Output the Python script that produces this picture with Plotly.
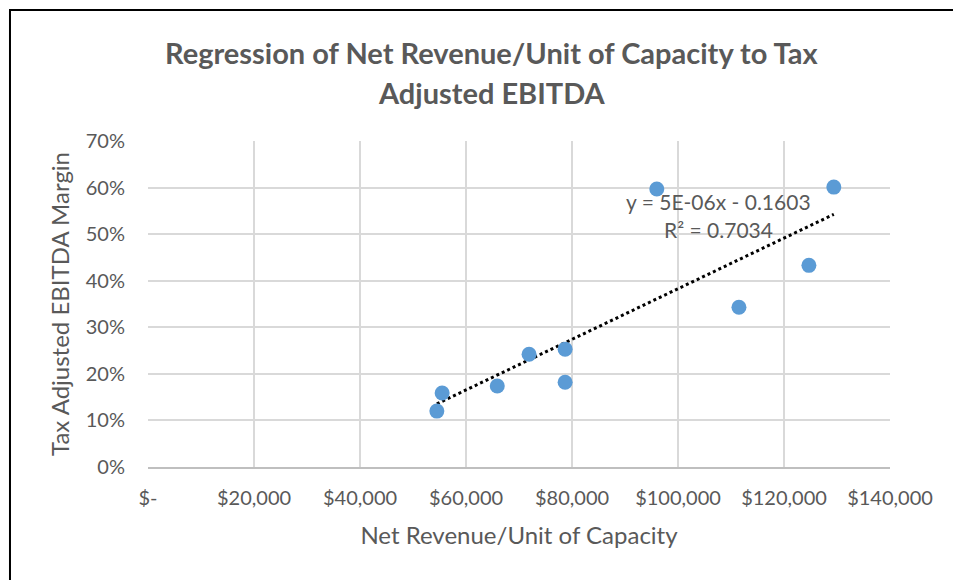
import plotly.graph_objects as go
import numpy as np

# data
revenue_per_unit = [54500, 55500, 65900, 71900, 78700, 78700, 96000, 111500, 124700, 129400]
ebitda_margin = [0.120, 0.159, 0.174, 0.242, 0.253, 0.182, 0.597, 0.343, 0.433, 0.601]

x_tickvals = [0, 20000, 40000, 60000, 80000, 100000, 120000, 140000]
x_ticktext = ['$-', '$20,000', '$40,000', '$60,000', '$80,000', '$100,000', '$120,000', '$140,000']
y_tickvals = [0, 0.1, 0.2, 0.3, 0.4, 0.5, 0.6, 0.7]

trend_eq = 'y = 5E-06x - 0.1603'
trend_r2 = 'R² = 0.7034'

GREY = '#595959'
FONT = 'Lato, Carlito, sans-serif'

# linear trendline like Excel's
x = np.array(revenue_per_unit, dtype=float)
y = np.array(ebitda_margin)
slope, intercept = np.polyfit(x, y, 1)
trend_x = np.array([x.min(), x.max()])
trend_y = slope * trend_x + intercept

fig = go.Figure()

fig.add_trace(go.Scatter(
    x=trend_x, y=trend_y, mode='lines',
    line=dict(color='black', width=3, dash='dot'), showlegend=False
))
fig.add_trace(go.Scatter(
    x=revenue_per_unit, y=ebitda_margin, mode='markers',
    marker=dict(color='#5B9BD5', size=15), showlegend=False
))

# title, two lines
fig.add_annotation(x=0.4636, y=1.273, xref='paper', yref='paper', showarrow=False,
                   xanchor='center', yanchor='middle',
                   text='<b>Regression of Net Revenue/Unit of Capacity to Tax</b>',
                   font=dict(size=29, color=GREY, family=FONT))
fig.add_annotation(x=0.4636, y=1.150, xref='paper', yref='paper', showarrow=False,
                   xanchor='center', yanchor='middle',
                   text='<b>Adjusted EBITDA</b>',
                   font=dict(size=29, color=GREY, family=FONT))

# trendline equation
fig.add_annotation(x=0.769, y=0.813, xref='paper', yref='paper', showarrow=False,
                   xanchor='center', yanchor='middle', text=trend_eq,
                   font=dict(size=21, color=GREY, family=FONT))
fig.add_annotation(x=0.769, y=0.727, xref='paper', yref='paper', showarrow=False,
                   xanchor='center', yanchor='middle', text=trend_r2,
                   font=dict(size=21, color=GREY, family=FONT))

# chart frame
fig.add_shape(type='rect', xref='paper', yref='paper',
              x0=-0.186, x1=1.0916, y0=-0.38, y1=1.402,
              line=dict(color='black', width=2), layer='below')

fig.update_layout(
    width=961, height=580, autosize=False,
    margin=dict(l=140, r=79, t=133, b=121),
    paper_bgcolor='white', plot_bgcolor='white',
    font=dict(family=FONT, color=GREY, size=20),
    xaxis=dict(
        range=[0, 140000], tickvals=x_tickvals, ticktext=x_ticktext,
        showgrid=True, gridcolor='#d9d9d9', gridwidth=1.5,
        showline=True, linecolor='#bfbfbf', linewidth=1.5,
        zeroline=False, ticks='', ticklabelstandoff=12,
        tickfont=dict(size=20, color=GREY),
        title=dict(text='Net Revenue/Unit of Capacity', font=dict(size=24, color=GREY), standoff=19),
    ),
    yaxis=dict(
        range=[0, 0.7], tickvals=y_tickvals, tickformat='.0%',
        showgrid=True, gridcolor='#d9d9d9', gridwidth=1.5,
        zeroline=False, ticks='', ticklabelstandoff=22,
        tickfont=dict(size=20, color=GREY),
        title=dict(text='Tax Adjusted EBITDA Margin', font=dict(size=24, color=GREY), standoff=9),
    ),
)

fig.write_html("out.html")
